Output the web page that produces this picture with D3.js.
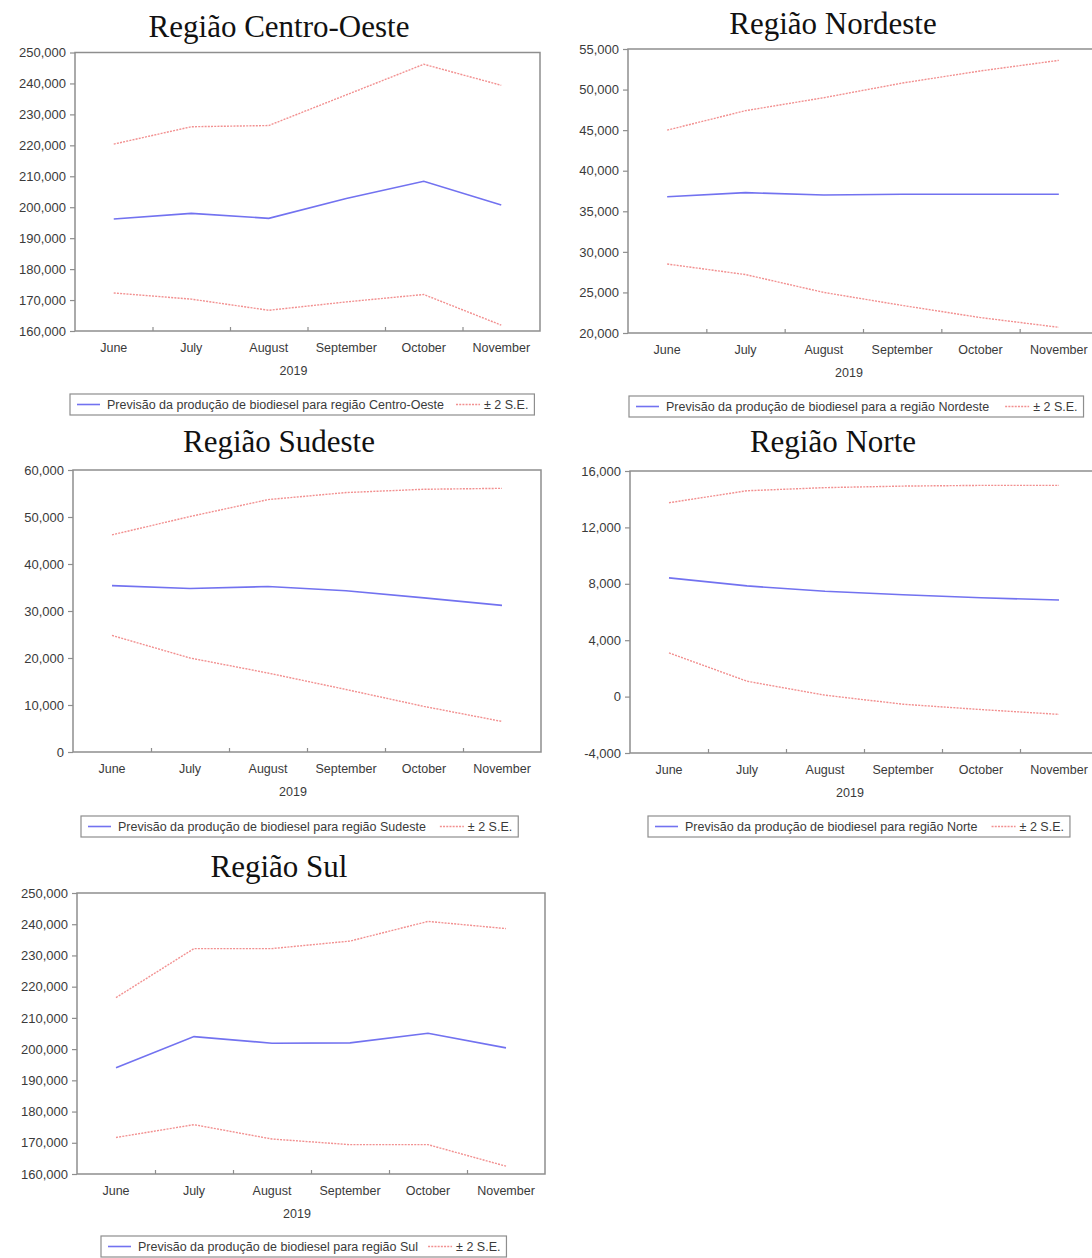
<!DOCTYPE html>
<html>
<head>
<meta charset="utf-8">
<script src="https://cdn.jsdelivr.net/npm/d3@7"></script>
<style>
  html, body { margin: 0; padding: 0; background: #fff; }
  svg { display: block; }
</style>
</head>
<body>
<script>
// Forecast horizon (shared by every region)
const months = ["June", "July", "August", "September", "October", "November"];
const yearLabel = "2019";
const bandLabel = "± 2 S.E.";

// Região Centro-Oeste
const coForecast = [196200, 198000, 196400, 202800, 208400, 200700];
const coUpper    = [220400, 226000, 226400, 236300, 246200, 239400];
const coLower    = [172300, 170300, 166700, 169400, 171800, 161900];
const coTicks    = [160000, 170000, 180000, 190000, 200000, 210000, 220000, 230000, 240000, 250000];

// Região Nordeste
const neForecast = [36800, 37300, 37000, 37100, 37100, 37100];
const neUpper    = [45000, 47400, 49000, 50800, 52300, 53600];
const neLower    = [28500, 27200, 25000, 23400, 21900, 20700];
const neTicks    = [20000, 25000, 30000, 35000, 40000, 45000, 50000, 55000];

// Região Sudeste
const seForecast = [35400, 34800, 35200, 34300, 32800, 31200];
const seUpper    = [46200, 50100, 53700, 55200, 55900, 56100];
const seLower    = [24800, 20000, 16800, 13300, 9700, 6500];
const seTicks    = [0, 10000, 20000, 30000, 40000, 50000, 60000];

// Região Norte
const noForecast = [8420, 7850, 7470, 7220, 7010, 6850];
const noUpper    = [13750, 14600, 14820, 14930, 14980, 14980];
const noLower    = [3100, 1090, 100, -540, -920, -1260];
const noTicks    = [-4000, 0, 4000, 8000, 12000, 16000];

// Região Sul
const suForecast = [194000, 204000, 201900, 202000, 205100, 200400];
const suUpper    = [216500, 232200, 232200, 234600, 240900, 238600];
const suLower    = [171700, 175800, 171200, 169400, 169400, 162500];
const suTicks    = [160000, 170000, 180000, 190000, 200000, 210000, 220000, 230000, 240000, 250000];

const titles = ["Região Centro-Oeste", "Região Nordeste", "Região Sudeste", "Região Norte", "Região Sul"];
const legendLabels = [
  "Previsão da produção de biodiesel para região Centro-Oeste",
  "Previsão da produção de biodiesel para a região Nordeste",
  "Previsão da produção de biodiesel para região Sudeste",
  "Previsão da produção de biodiesel para região Norte",
  "Previsão da produção de biodiesel para região Sul"
];

const W = 1092, H = 1258;
const FONT = "'Liberation Sans', Arial, sans-serif";
const TEXT = "#3a3a3a";
const FRAME = "#8e8e8e";
const BLUE = "#7272f0";
const RED = "#f29090";

const svg = d3.select("body").append("svg")
  .attr("width", W).attr("height", H)
  .attr("viewBox", `0 0 ${W} ${H}`);
svg.append("rect").attr("width", W).attr("height", H).attr("fill", "#fff");

// Panel frames: plot box, title placement and legend box
const panels = [
  { title: titles[0], legend: legendLabels[0], forecast: coForecast, upper: coUpper, lower: coLower, ticks: coTicks,
    left: 75, right: 540, top: 52.5, bottom: 331, titleX: 279, titleY: 37, legX: 70, legY: 394, legGap: 12 },
  { title: titles[1], legend: legendLabels[1], forecast: neForecast, upper: neUpper, lower: neLower, ticks: neTicks,
    left: 628, right: 1098, top: 49, bottom: 333, titleX: 833, titleY: 34, legX: 629, legY: 396, legGap: 16 },
  { title: titles[2], legend: legendLabels[2], forecast: seForecast, upper: seUpper, lower: seLower, ticks: seTicks,
    left: 73, right: 541, top: 470, bottom: 752, titleX: 279, titleY: 452, legX: 81, legY: 816, legGap: 14 },
  { title: titles[3], legend: legendLabels[3], forecast: noForecast, upper: noUpper, lower: noLower, ticks: noTicks,
    left: 630, right: 1098, top: 471, bottom: 753, titleX: 833, titleY: 452, legX: 648, legY: 816, legGap: 14 },
  { title: titles[4], legend: legendLabels[4], forecast: suForecast, upper: suUpper, lower: suLower, ticks: suTicks,
    left: 77, right: 545, top: 893, bottom: 1174, titleX: 279, titleY: 877, legX: 101, legY: 1236, legGap: 10 }
];

const fmt = d => d3.format(",")(d).replace("\u2212", "-");

function drawPanel(p) {
  const g = svg.append("g");

  const x = d3.scaleBand().domain(months).range([p.left, p.right]);
  const xEdge = d3.scaleLinear().domain([0, months.length]).range([p.left, p.right]);
  const y = d3.scaleLinear()
    .domain([p.ticks[0], p.ticks[p.ticks.length - 1]])
    .range([p.bottom, p.top]);
  const cx = m => x(m) + x.bandwidth() / 2;

  // Title
  g.append("text")
    .attr("x", p.titleX).attr("y", p.titleY)
    .attr("text-anchor", "middle")
    .attr("font-family", "'Liberation Serif', 'Times New Roman', serif")
    .attr("font-size", 31)
    .attr("fill", "#111")
    .text(p.title);

  // Left axis with outward ticks
  const yAxis = g.append("g")
    .attr("transform", `translate(${p.left},0)`)
    .call(d3.axisLeft(y).tickValues(p.ticks).tickSize(5).tickPadding(4).tickFormat(fmt));
  yAxis.select(".domain").remove();
  yAxis.selectAll("line").attr("stroke", FRAME).attr("stroke-width", 1.2);
  yAxis.selectAll("text").attr("fill", TEXT).attr("font-family", FONT).attr("font-size", 13);

  // Category boundary ticks along the bottom (pointing inward)
  const edgeAxis = g.append("g")
    .attr("transform", `translate(0,${p.bottom})`)
    .call(d3.axisBottom(xEdge).tickValues(d3.range(1, months.length)).tickSize(-4).tickFormat(""));
  edgeAxis.select(".domain").remove();
  edgeAxis.selectAll("line").attr("stroke", FRAME).attr("stroke-width", 1.2);

  // Month labels centred in each band
  const xAxis = g.append("g")
    .attr("transform", `translate(0,${p.bottom})`)
    .call(d3.axisBottom(x).tickSize(0).tickPadding(12));
  xAxis.select(".domain").remove();
  xAxis.selectAll("text").attr("fill", TEXT).attr("font-family", FONT).attr("font-size", 12.5);

  // Year caption
  g.append("text")
    .attr("x", (p.left + p.right) / 2 - 14).attr("y", p.bottom + 44)
    .attr("text-anchor", "middle")
    .attr("font-family", FONT).attr("font-size", 12.5).attr("fill", TEXT)
    .text(yearLabel);

  // Plot frame
  g.append("rect")
    .attr("x", p.left).attr("y", p.top)
    .attr("width", p.right - p.left).attr("height", p.bottom - p.top)
    .attr("fill", "none").attr("stroke", FRAME).attr("stroke-width", 1.5);

  const line = d3.line().x((d, i) => cx(months[i])).y(d => y(d));

  // ±2 standard-error band edges (dotted)
  [p.upper, p.lower].forEach(series => {
    g.append("path")
      .datum(series)
      .attr("d", line)
      .attr("fill", "none")
      .attr("stroke", RED)
      .attr("stroke-width", 1.4)
      .attr("stroke-dasharray", "2,1.2");
  });

  // Point forecast
  g.append("path")
    .datum(p.forecast)
    .attr("d", line)
    .attr("fill", "none")
    .attr("stroke", BLUE)
    .attr("stroke-width", 1.6);

  // Legend box
  const lg = g.append("g");
  const ly = p.legY + 10.5;
  lg.append("line")
    .attr("x1", p.legX + 7).attr("x2", p.legX + 30)
    .attr("y1", ly).attr("y2", ly)
    .attr("stroke", BLUE).attr("stroke-width", 1.6);
  const t1 = lg.append("text")
    .attr("x", p.legX + 37).attr("y", ly + 4.5)
    .attr("font-family", FONT).attr("font-size", 12.5).attr("fill", TEXT)
    .text(p.legend);
  const t1End = p.legX + 37 + t1.node().getComputedTextLength();
  const rx = t1End + p.legGap;
  lg.append("line")
    .attr("x1", rx).attr("x2", rx + 24)
    .attr("y1", ly).attr("y2", ly)
    .attr("stroke", RED).attr("stroke-width", 1.4).attr("stroke-dasharray", "2,1.2");
  const t2 = lg.append("text")
    .attr("x", rx + 28).attr("y", ly + 4.5)
    .attr("font-family", FONT).attr("font-size", 12.5).attr("fill", TEXT)
    .text(bandLabel);
  const boxRight = rx + 28 + t2.node().getComputedTextLength() + 6;
  lg.insert("rect", ":first-child")
    .attr("x", p.legX).attr("y", p.legY)
    .attr("width", boxRight - p.legX).attr("height", 21)
    .attr("fill", "#fff").attr("stroke", FRAME).attr("stroke-width", 1.2);
}

panels.forEach(drawPanel);
</script>
</body>
</html>
